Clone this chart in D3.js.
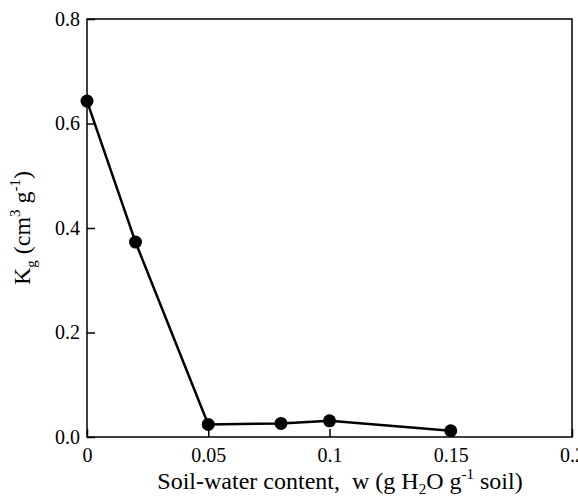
<!DOCTYPE html>
<html><head><meta charset="utf-8">
<script src="https://cdn.jsdelivr.net/npm/d3@7"></script>
<style>body{margin:0;background:#fff}svg{display:block}</style>
</head><body>
<script>
const waterContent = [0, 0.02, 0.05, 0.08, 0.1, 0.15];
const kgValues = [0.643, 0.373, 0.024, 0.026, 0.031, 0.012];
const xTicks = [0, 0.05, 0.1, 0.15, 0.2];
const xTickLabels = ["0", "0.05", "0.1", "0.15", "0.2"];
const yTicks = [0, 0.2, 0.4, 0.6, 0.8];
const yTickLabels = ["0.0", "0.2", "0.4", "0.6", "0.8"];

const FONT = "'Liberation Serif'";
const W = 578, H = 497;
const m = {left: 87, right: 6, top: 19, bottom: 60};
const svg = d3.select("body").append("svg").attr("width", W).attr("height", H);
const x = d3.scaleLinear().domain([0, 0.2]).range([m.left, W - m.right]);
const y = d3.scaleLinear().domain([0, 0.8]).range([H - m.bottom, m.top]);

svg.append("rect").attr("x", x(0)).attr("y", y(0.8)).attr("width", x(0.2) - x(0)).attr("height", y(0) - y(0.8))
  .attr("fill", "none").attr("stroke", "#000").attr("stroke-width", 1.5);

const xAxis = svg.append("g").attr("transform", `translate(0,${y(0)})`)
  .call(d3.axisBottom(x).tickValues(xTicks).tickFormat((d, i) => xTickLabels[i]).tickSizeInner(-8).tickSizeOuter(0).tickPadding(11));
const yAxis = svg.append("g").attr("transform", `translate(${x(0)},0)`)
  .call(d3.axisLeft(y).tickValues(yTicks).tickFormat((d, i) => yTickLabels[i]).tickSizeInner(-8).tickSizeOuter(0).tickPadding(7));
[xAxis, yAxis].forEach(g => {
  g.select(".domain").remove();
  g.selectAll(".tick line").attr("stroke", "#000").attr("stroke-width", 1.5);
  g.selectAll("text").style("font-family", FONT).style("font-size", "20px").attr("fill", "#000");
});

const pts = waterContent.map((w, i) => [w, kgValues[i]]);
svg.append("path").datum(pts)
  .attr("d", d3.line().x(d => x(d[0])).y(d => y(d[1])))
  .attr("fill", "none").attr("stroke", "#000").attr("stroke-width", 2.5);
svg.selectAll("circle.pt").data(pts).enter().append("circle")
  .attr("cx", d => x(d[0])).attr("cy", d => y(d[1])).attr("r", 6.5).attr("fill", "#000");

const xl = svg.append("text").attr("x", 340).attr("y", 489).attr("text-anchor", "middle")
  .style("font-family", FONT).style("font-size", "24px").style("white-space", "pre");
xl.append("tspan").text("Soil-water content,  w (g H");
xl.append("tspan").attr("dy", 5).style("font-size", "15px").text("2");
xl.append("tspan").attr("dy", -5).text("O g");
xl.append("tspan").attr("dy", -10).style("font-size", "15px").text("-1");
xl.append("tspan").attr("dy", 10).text(" soil)");

const yl = svg.append("text").attr("transform", "translate(30,228) rotate(-90)").attr("text-anchor", "middle")
  .style("font-family", FONT).style("font-size", "24px");
yl.append("tspan").text("K");
yl.append("tspan").attr("dy", 6).style("font-size", "15px").text("g");
yl.append("tspan").attr("dy", -6).text(" (cm");
yl.append("tspan").attr("dy", -10).style("font-size", "15px").text("3");
yl.append("tspan").attr("dy", 10).text(" g");
yl.append("tspan").attr("dy", -10).style("font-size", "15px").text("-1");
yl.append("tspan").attr("dy", 10).text(")");
</script>
</body></html>
